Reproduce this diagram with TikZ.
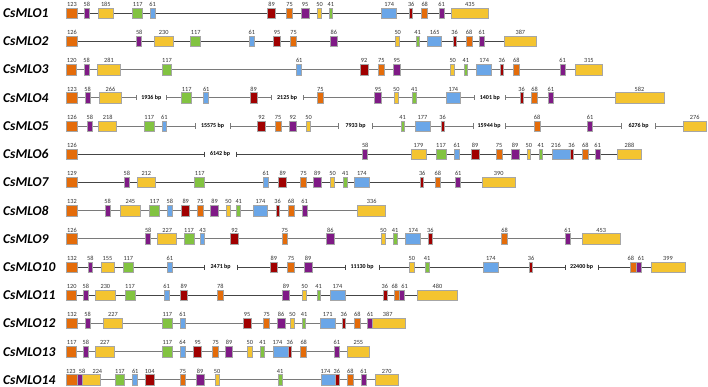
\documentclass[tikz,border=0pt]{standalone}
\usepackage{fontspec}
\setmainfont{Carlito}
\usetikzlibrary{backgrounds}
\definecolor{cOr}{HTML}{E46C0A}
\definecolor{cPu}{HTML}{7F1A86}
\definecolor{cYe}{HTML}{F4C430}
\definecolor{cGr}{HTML}{82C341}
\definecolor{cBl}{HTML}{6AA6E8}
\definecolor{cRe}{HTML}{A00000}
\definecolor{lnD}{HTML}{454545}
\definecolor{lnL}{HTML}{7A7A7A}
\definecolor{exBorder}{HTML}{A6A6A6}
\tikzset{
  exon/.style={rectangle, draw=exBorder, line width=0.6pt, minimum height=10.5pt, inner sep=0pt, outer sep=0pt},
  numlbl/.style={font=\fontsize{6.3}{7}\selectfont, inner sep=1.3pt, text=black!80},
  bplbl/.style={font=\bfseries\fontsize{6}{7}\selectfont, inner sep=0pt},
  rowlbl/.style={font=\bfseries\itshape\fontsize{13.5}{15}\selectfont, anchor=base west, inner sep=0pt},
  intron/.style={line width=0.9pt},
}
\newcommand\RowY[1]{(13.3+(#1-1)*28.2)}
\newcommand\EX[7][0]{\node[exon, fill=#6, minimum width={(#5-#4)*1pt}, label={[numlbl,xshift=#1pt]above:#7}] (r#2e#3) at ({(#4+#5)/2},{\RowY{#2}}) {};}
\newcommand\BRK[5]{%
  \coordinate (r#1b#2a) at (#3,{\RowY{#1}});
  \coordinate (r#1b#2b) at (#4,{\RowY{#1}});
  \node[bplbl] (r#1t#2) at ({(#3+#4)/2},{\RowY{#1}}) {#5};}
\newcommand\TICKS[3]{%
  \draw[intron,#3] ([yshift=2.6pt]r#1b#2a) -- ([yshift=-2.6pt]r#1b#2a);
  \draw[intron,#3] ([yshift=2.6pt]r#1b#2b) -- ([yshift=-2.6pt]r#1b#2b);}
\newcommand\ROWNAME[2]{\node[rowlbl] (n#1) at (3,{\RowY{#1}+4.3}) {#2};}
\begin{document}
\begin{tikzpicture}[x=1pt,y=-1pt]
\useasboundingbox (0,0) rectangle (708,387);
% row names
\ROWNAME{1}{CsMLO1}
\ROWNAME{2}{CsMLO2}
\ROWNAME{3}{CsMLO3}
\ROWNAME{4}{CsMLO4}
\ROWNAME{5}{CsMLO5}
\ROWNAME{6}{CsMLO6}
\ROWNAME{7}{CsMLO7}
\ROWNAME{8}{CsMLO8}
\ROWNAME{9}{CsMLO9}
\ROWNAME{10}{CsMLO10}
\ROWNAME{11}{CsMLO11}
\ROWNAME{12}{CsMLO12}
\ROWNAME{13}{CsMLO13}
\ROWNAME{14}{CsMLO14}
% row 1
\EX{1}{1}{66.7}{77.3}{cOr}{123}
\EX{1}{2}{84.3}{89.3}{cPu}{58}
\EX{1}{3}{98.3}{113.3}{cYe}{185}
\EX{1}{4}{132.7}{142.7}{cGr}{117}
\EX{1}{5}{150}{155}{cBl}{61}
\EX{1}{6}{267.7}{275.3}{cRe}{89}
\EX{1}{7}{286.3}{292.7}{cOr}{75}
\EX{1}{8}{301}{309}{cPu}{95}
\EX{1}{9}{317.3}{321.7}{cYe}{50}
\EX{1}{10}{329.3}{332.3}{cGr}{41}
\EX{1}{11}{381.7}{396.7}{cBl}{174}
\EX{1}{12}{409.7}{412.7}{cRe}{36}
\EX{1}{13}{421.7}{427.7}{cOr}{68}
\EX{1}{14}{439}{444}{cPu}{61}
\EX{1}{15}{451.7}{488.3}{cYe}{435}
% row 2
\EX{2}{1}{66.7}{77.3}{cOr}{126}
\EX{2}{2}{136.7}{141.7}{cPu}{58}
\EX{2}{3}{154}{173.3}{cYe}{230}
\EX{2}{4}{190.7}{200.7}{cGr}{117}
\EX{2}{5}{249.3}{254.3}{cBl}{61}
\EX{2}{6}{273.3}{280.7}{cRe}{95}
\EX{2}{7}{290.3}{296.7}{cOr}{75}
\EX{2}{8}{330.3}{337.3}{cPu}{86}
\EX{2}{9}{395.7}{399.7}{cYe}{50}
\EX{2}{10}{416}{419}{cGr}{41}
\EX{2}{11}{427.7}{441.7}{cBl}{165}
\EX{2}{12}{453}{456}{cRe}{36}
\EX{2}{13}{466}{472.3}{cOr}{68}
\EX{2}{14}{479.3}{484.3}{cPu}{61}
\EX{2}{15}{504}{536.7}{cYe}{387}
% row 3
\EX{3}{1}{66.7}{76.7}{cOr}{120}
\EX{3}{2}{84.3}{89}{cPu}{58}
\EX{3}{3}{97.3}{120.7}{cYe}{281}
\EX{3}{4}{162.3}{171.7}{cGr}{117}
\EX{3}{5}{296.7}{301.7}{cBl}{61}
\EX{3}{6}{360}{368.3}{cRe}{92}
\EX{3}{7}{378.3}{384.3}{cOr}{75}
\EX{3}{8}{393}{400.7}{cPu}{95}
\EX{3}{9}{450.7}{454.7}{cYe}{50}
\EX{3}{10}{464.3}{467.3}{cGr}{41}
\EX{3}{11}{476.7}{491.7}{cBl}{174}
\EX{3}{12}{500.3}{503.3}{cRe}{36}
\EX{3}{13}{513.3}{519.3}{cOr}{68}
\EX{3}{14}{560}{565}{cPu}{61}
\EX{3}{15}{575.7}{602}{cYe}{315}
% row 4
\EX{4}{1}{66.7}{77.3}{cOr}{123}
\EX{4}{2}{85.3}{90}{cPu}{58}
\EX{4}{3}{99.3}{121.7}{cYe}{266}
\EX{4}{4}{181.7}{191.7}{cGr}{117}
\EX{4}{5}{203.7}{208.7}{cBl}{61}
\EX{4}{6}{250}{257.3}{cRe}{89}
\EX{4}{7}{317.3}{323.3}{cOr}{75}
\EX{4}{8}{374.3}{381.7}{cPu}{95}
\EX{4}{9}{394.3}{398.3}{cYe}{50}
\EX{4}{10}{412.7}{416}{cGr}{41}
\EX{4}{11}{446}{460.7}{cBl}{174}
\EX{4}{12}{520}{523.3}{cRe}{36}
\EX{4}{13}{531.7}{537.3}{cOr}{68}
\EX{4}{14}{548.3}{553.3}{cPu}{61}
\EX{4}{15}{615}{664}{cYe}{582}
\BRK{4}{1}{136}{166.7}{1936 bp}
\BRK{4}{2}{271}{303.3}{2125 bp}
\BRK{4}{3}{474}{505.7}{1401 bp}
% row 5
\EX{5}{1}{66.7}{77.3}{cOr}{126}
\EX{5}{2}{87.3}{92.3}{cPu}{58}
\EX{5}{3}{98.7}{116.7}{cYe}{218}
\EX{5}{4}{144.3}{154}{cGr}{117}
\EX{5}{5}{162}{166.7}{cBl}{61}
\EX{5}{6}{257.3}{265.7}{cRe}{92}
\EX{5}{7}{275}{281.3}{cOr}{75}
\EX{5}{8}{289}{296.7}{cPu}{92}
\EX{5}{9}{306.3}{310.7}{cYe}{50}
\EX{5}{10}{401}{404.3}{cGr}{41}
\EX{5}{11}{415}{430}{cBl}{177}
\EX{5}{12}{441}{444}{cRe}{36}
\EX{5}{13}{534.3}{540}{cOr}{68}
\EX{5}{14}{587.3}{592.7}{cPu}{61}
\EX{5}{15}{683.3}{706}{cYe}{276}
\BRK{5}{1}{195}{230}{15575 bp}
\BRK{5}{2}{338.3}{372.7}{7933 bp}
\BRK{5}{3}{473.3}{505}{15944 bp}
\BRK{5}{4}{621.7}{655.3}{6276 bp}
% row 6
\EX{6}{1}{66.7}{77.3}{cOr}{126}
\EX{6}{2}{362.7}{367.7}{cPu}{58}
\EX{6}{3}{411}{426}{cYe}{179}
\EX{6}{4}{436}{446}{cGr}{117}
\EX{6}{5}{454.3}{459.3}{cBl}{61}
\EX{6}{6}{471}{479}{cRe}{89}
\EX{6}{7}{496}{502}{cOr}{75}
\EX{6}{8}{511}{519}{cPu}{89}
\EX{6}{9}{527}{530.7}{cYe}{50}
\EX{6}{10}{539}{542.7}{cGr}{41}
\EX[-5]{6}{11}{552}{570}{cBl}{216}
\EX{6}{12}{570}{573}{cRe}{36}
\EX{6}{13}{582.3}{588.3}{cOr}{68}
\EX{6}{14}{595}{600}{cPu}{61}
\EX{6}{15}{617.3}{641.7}{cYe}{288}
\BRK{6}{1}{204}{236}{6142 bp}
% row 7
\EX{7}{1}{66.7}{77.3}{cOr}{129}
\EX{7}{2}{124.3}{129.3}{cPu}{58}
\EX{7}{3}{137.3}{155.3}{cYe}{212}
\EX{7}{4}{194.7}{204.7}{cGr}{117}
\EX{7}{5}{263.3}{268.3}{cBl}{61}
\EX{7}{6}{278.7}{286.7}{cRe}{89}
\EX{7}{7}{300.3}{306.7}{cOr}{75}
\EX{7}{8}{313.3}{321.3}{cPu}{89}
\EX{7}{9}{330.3}{334.7}{cYe}{50}
\EX{7}{10}{343.7}{347}{cGr}{41}
\EX{7}{11}{354.3}{369.3}{cBl}{174}
\EX{7}{12}{420.7}{423.7}{cRe}{36}
\EX{7}{13}{435}{440.7}{cOr}{68}
\EX{7}{14}{455.7}{460.7}{cPu}{61}
\EX{7}{15}{482.3}{515}{cYe}{390}
% row 8
\EX{8}{1}{66.7}{77.3}{cOr}{132}
\EX{8}{2}{105}{110}{cPu}{58}
\EX{8}{3}{120}{140.7}{cYe}{245}
\EX{8}{4}{149.7}{159.3}{cGr}{117}
\EX{8}{5}{167.3}{172.3}{cBl}{58}
\EX{8}{6}{181.7}{189.7}{cRe}{89}
\EX{8}{7}{197.3}{203.3}{cOr}{75}
\EX{8}{8}{210.7}{218.3}{cPu}{89}
\EX{8}{9}{226.3}{230.3}{cYe}{50}
\EX{8}{10}{236.7}{240.7}{cGr}{41}
\EX{8}{11}{253.3}{267.7}{cBl}{174}
\EX{8}{12}{276}{279.3}{cRe}{36}
\EX{8}{13}{288.3}{294}{cOr}{68}
\EX{8}{14}{302}{307.3}{cPu}{61}
\EX{8}{15}{357.7}{385.7}{cYe}{336}
% row 9
\EX{9}{1}{66.7}{77.3}{cOr}{126}
\EX{9}{2}{145.7}{150.7}{cPu}{58}
\EX{9}{3}{157.7}{176.7}{cYe}{227}
\EX{9}{4}{184}{194}{cGr}{117}
\EX{9}{5}{200.7}{204.3}{cBl}{43}
\EX{9}{6}{230.7}{238.3}{cRe}{92}
\EX{9}{7}{282}{287.7}{cOr}{75}
\EX{9}{8}{326.7}{334}{cPu}{86}
\EX{9}{9}{381}{385.7}{cYe}{50}
\EX{9}{10}{393.3}{397}{cGr}{41}
\EX{9}{11}{405.7}{420.7}{cBl}{174}
\EX{9}{12}{428.7}{432}{cRe}{36}
\EX{9}{13}{501.7}{507.3}{cOr}{68}
\EX{9}{14}{565}{570}{cPu}{61}
\EX{9}{15}{582}{620.3}{cYe}{453}
% row 10
\EX{10}{1}{66.7}{77.3}{cOr}{132}
\EX{10}{2}{88}{92.7}{cPu}{58}
\EX{10}{3}{101}{114}{cYe}{155}
\EX{10}{4}{123.3}{133.3}{cGr}{117}
\EX{10}{5}{167.3}{172.3}{cBl}{61}
\EX{10}{6}{270}{277.7}{cRe}{89}
\EX{10}{7}{287.7}{294.3}{cOr}{75}
\EX{10}{8}{304.3}{312}{cPu}{89}
\EX{10}{9}{409.7}{414}{cYe}{50}
\EX{10}{10}{425.3}{429}{cGr}{41}
\EX{10}{11}{483.3}{498.3}{cBl}{174}
\EX{10}{12}{529.3}{532.7}{cRe}{36}
\EX[-2.5]{10}{13}{630.7}{636}{cOr}{68}
\EX[2.2]{10}{14}{636}{641.7}{cPu}{61}
\EX{10}{15}{651}{685}{cYe}{399}
\BRK{10}{1}{204}{237.3}{2471 bp}
\BRK{10}{2}{345}{379}{11130 bp}
\BRK{10}{3}{565}{598.3}{22400 bp}
% row 11
\EX{11}{1}{66.7}{76.7}{cOr}{120}
\EX{11}{2}{83.3}{88.3}{cPu}{58}
\EX{11}{3}{95.7}{115}{cYe}{230}
\EX{11}{4}{125}{135}{cGr}{117}
\EX{11}{5}{164}{169.3}{cBl}{61}
\EX{11}{6}{180}{187.7}{cRe}{89}
\EX{11}{7}{217.3}{223.3}{cOr}{78}
\EX{11}{8}{282.3}{289.7}{cPu}{89}
\EX{11}{9}{302.3}{306.7}{cYe}{50}
\EX{11}{10}{317}{320.3}{cGr}{41}
\EX{11}{11}{330}{345}{cBl}{174}
\EX[-0.5]{11}{12}{383.7}{387}{cRe}{36}
\EX[-2.3]{11}{13}{394.3}{399.7}{cOr}{68}
\EX[2.3]{11}{14}{399.7}{404.7}{cPu}{61}
\EX{11}{15}{417.3}{457.7}{cYe}{480}
% row 12
\EX{12}{1}{66.7}{77.3}{cOr}{132}
\EX{12}{2}{85}{90}{cPu}{58}
\EX{12}{3}{103.3}{122.7}{cYe}{227}
\EX{12}{4}{162.3}{172.3}{cGr}{117}
\EX{12}{5}{180.3}{185}{cBl}{61}
\EX{12}{6}{243.3}{251}{cRe}{95}
\EX{12}{7}{263.7}{269.7}{cOr}{75}
\EX{12}{8}{277.3}{285}{cPu}{86}
\EX{12}{9}{290.3}{294.3}{cYe}{50}
\EX{12}{10}{302.3}{305.7}{cGr}{41}
\EX{12}{11}{320.3}{335}{cBl}{171}
\EX{12}{12}{342.3}{345.3}{cRe}{36}
\EX{12}{13}{354.3}{360.3}{cOr}{68}
\EX{12}{14}{367.7}{372.7}{cPu}{61}
\EX[-1.5]{12}{15}{372.7}{405.7}{cYe}{387}
% row 13
\EX{13}{1}{66.7}{76.7}{cOr}{117}
\EX{13}{2}{83.3}{88.3}{cPu}{58}
\EX{13}{3}{95.3}{114.3}{cYe}{227}
\EX{13}{4}{162.3}{172.3}{cGr}{117}
\EX{13}{5}{180}{185.3}{cBl}{64}
\EX{13}{6}{193.7}{201.7}{cRe}{95}
\EX{13}{7}{212.7}{218.7}{cOr}{75}
\EX{13}{8}{225.3}{232.7}{cPu}{89}
\EX{13}{9}{247.7}{252}{cYe}{50}
\EX{13}{10}{260.7}{264.3}{cGr}{41}
\EX[-3.2]{13}{11}{273.3}{288}{cBl}{174}
\EX[0.3]{13}{12}{288}{291}{cRe}{36}
\EX{13}{13}{300.7}{306.7}{cOr}{68}
\EX{13}{14}{334.3}{339.3}{cPu}{61}
\EX{13}{15}{347.7}{369}{cYe}{255}
% row 14
\EX[-1]{14}{1}{66.7}{77}{cOr}{123}
\EX[2.5]{14}{2}{77}{82}{cPu}{58}
\EX[6]{14}{3}{82}{100.7}{cYe}{224}
\EX{14}{4}{115}{124.7}{cGr}{117}
\EX{14}{5}{132.7}{137.7}{cBl}{61}
\EX{14}{6}{145.3}{154}{cRe}{104}
\EX{14}{7}{180}{185.7}{cOr}{75}
\EX{14}{8}{196.3}{204}{cPu}{89}
\EX{14}{9}{215}{219}{cYe}{50}
\EX{14}{10}{278.3}{282}{cGr}{41}
\EX[-3.2]{14}{11}{321.7}{335.7}{cBl}{174}
\EX[-0.5]{14}{12}{335.7}{339}{cRe}{36}
\EX{14}{13}{347.3}{353.3}{cOr}{68}
\EX{14}{14}{361}{366.3}{cPu}{61}
\EX{14}{15}{375.3}{398}{cYe}{270}
% intron lines
\begin{pgfonlayer}{background}
\fill[white] (0,0) rectangle (708,387);
\draw[intron,lnD] (r1e1.west) -- (r1e15.east);
\draw[intron,lnD] (r2e1.west) -- (r2e15.east);
\draw[intron,lnL] (r3e1.west) -- (r3e15.east);
\draw[intron,lnL] (r4e1.west) -- (r4b1a) (r4b1b) -- (r4b2a) (r4b2b) -- (r4b3a) (r4b3b) -- (r4e15.east);
\TICKS{4}{1}{lnL}\TICKS{4}{2}{lnL}\TICKS{4}{3}{lnL}
\draw[intron,lnL] (r5e1.west) -- (r5b1a) (r5b1b) -- (r5b2a) (r5b2b) -- (r5b3a) (r5b3b) -- (r5b4a) (r5b4b) -- (r5e15.east);
\TICKS{5}{1}{lnL}\TICKS{5}{2}{lnL}\TICKS{5}{3}{lnL}\TICKS{5}{4}{lnL}
\draw[intron,lnD] (r6e1.west) -- (r6b1a) (r6b1b) -- (r6e15.east);
\TICKS{6}{1}{lnD}
\draw[intron,lnD] (r7e1.west) -- (r7e15.east);
\draw[intron,lnL] (r8e1.west) -- (r8e15.east);
\draw[intron,lnL] (r9e1.west) -- (r9e15.east);
\draw[intron,lnD] (r10e1.west) -- (r10b1a) (r10b1b) -- (r10b2a) (r10b2b) -- (r10b3a) (r10b3b) -- (r10e15.east);
\TICKS{10}{1}{lnD}\TICKS{10}{2}{lnD}\TICKS{10}{3}{lnD}
\draw[intron,lnD] (r11e1.west) -- (r11e15.east);
\draw[intron,lnL] (r12e1.west) -- (r12e15.east);
\draw[intron,lnL] (r13e1.west) -- (r13e15.east);
\draw[intron,lnL] (r14e1.west) -- (r14e15.east);
\end{pgfonlayer}
\end{tikzpicture}
\end{document}
